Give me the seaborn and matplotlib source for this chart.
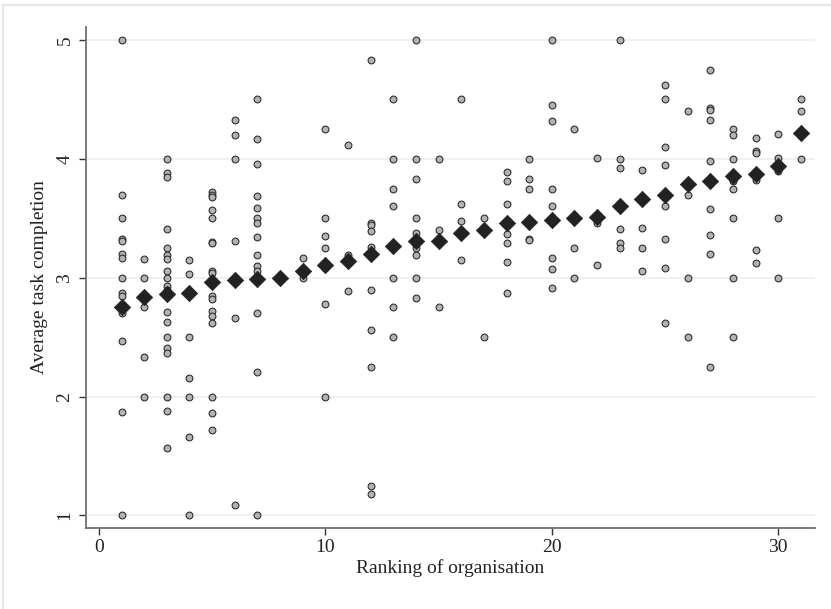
import matplotlib
matplotlib.use("Agg")
import matplotlib.pyplot as plt
import seaborn as sns
import pandas as pd
from matplotlib.lines import Line2D

# ---- data ----
rank_points = {
    1: [5.0, 3.70, 3.50, 3.33, 3.31, 3.20, 3.17, 3.0, 2.87, 2.85, 2.75, 2.70, 2.47, 1.87, 1.0],
    2: [3.16, 3.0, 2.75, 2.33, 2.0],
    3: [4.0, 3.88, 3.85, 3.41, 3.25, 3.19, 3.16, 3.06, 3.0, 2.93, 2.90, 2.71, 2.63, 2.50, 2.41, 2.37, 2.0, 1.88, 1.57],
    4: [3.15, 3.03, 2.5, 2.16, 2.0, 1.66, 1.0],
    5: [3.72, 3.70, 3.68, 3.57, 3.50, 3.30, 3.29, 3.06, 3.04, 2.85, 2.82, 2.72, 2.68, 2.62, 2.0, 1.86, 1.72],
    6: [4.33, 4.20, 4.0, 3.31, 2.66, 1.09],
    7: [4.50, 4.17, 3.96, 3.69, 3.59, 3.50, 3.46, 3.34, 3.19, 3.10, 3.06, 2.70, 2.21, 1.0],
    8: [3.0],
    9: [3.17, 3.0],
    10: [4.25, 3.50, 3.35, 3.25, 3.10, 3.08, 2.78, 2.0],
    11: [4.12, 3.19, 3.17, 3.14, 2.89],
    12: [4.83, 3.46, 3.44, 3.39, 3.26, 2.90, 2.56, 2.25, 1.25, 1.18],
    13: [4.50, 4.0, 3.75, 3.60, 3.0, 2.75, 2.50],
    14: [5.0, 4.0, 3.83, 3.50, 3.38, 3.25, 3.19, 3.0, 2.83],
    15: [4.0, 3.40, 2.75],
    16: [4.50, 3.62, 3.48, 3.15],
    17: [3.50, 2.50],
    18: [3.89, 3.81, 3.62, 3.37, 3.29, 3.13, 2.87],
    19: [4.0, 3.83, 3.75, 3.33, 3.32],
    20: [5.0, 4.45, 4.32, 3.75, 3.60, 3.17, 3.07, 2.91],
    21: [4.25, 3.50, 3.25, 3.0],
    22: [4.01, 3.46, 3.11],
    23: [5.0, 4.0, 3.92, 3.41, 3.29, 3.25],
    24: [3.91, 3.42, 3.25, 3.06],
    25: [4.62, 4.50, 4.10, 3.95, 3.60, 3.33, 3.08, 2.62],
    26: [4.40, 3.70, 3.0, 2.50],
    27: [4.75, 4.43, 4.41, 4.33, 3.98, 3.58, 3.36, 3.20, 2.25],
    28: [4.25, 4.20, 4.0, 3.81, 3.75, 3.50, 3.0, 2.50],
    29: [4.18, 4.07, 4.05, 3.82, 3.23, 3.12],
    30: [4.21, 4.01, 3.90, 3.50, 3.0],
    31: [4.50, 4.40, 4.0],
}
mean_ranks = list(range(1, 32))
mean_values = [2.75, 2.84, 2.86, 2.87, 2.96, 2.98, 2.99, 3.00, 3.06, 3.11,
               3.14, 3.20, 3.27, 3.31, 3.31, 3.38, 3.40, 3.46, 3.47, 3.49,
               3.50, 3.51, 3.60, 3.66, 3.70, 3.79, 3.81, 3.86, 3.87, 3.94, 4.22]
x_ticks = [0, 10, 20, 30]
y_ticks = [1, 2, 3, 4, 5]
x_label = "Ranking of organisation"
y_label = "Average task completion"

pts = pd.DataFrame([(r, v) for r, vals in rank_points.items() for v in vals],
                   columns=["rank", "value"])
means = pd.DataFrame({"rank": mean_ranks, "value": mean_values})

sns.set_theme(style="white")
plt.rcParams["font.family"] = ["Liberation Serif", "DejaVu Serif"]

fig = plt.figure(figsize=(8.31, 6.09), dpi=100)
ax = fig.add_axes([86 / 831, 81 / 609, (815 - 86) / 831, (528 - 27) / 609])

# outer light frame (left and top edges visible)
fig.lines.append(Line2D([3.5 / 831, 3.5 / 831], [0, 1 - 4.5 / 609],
                        transform=fig.transFigure, color="#e6e6e6", linewidth=1.5))
fig.lines.append(Line2D([3.5 / 831, 1], [1 - 4.5 / 609, 1 - 4.5 / 609],
                        transform=fig.transFigure, color="#e6e6e6", linewidth=1.5))

sns.scatterplot(data=pts, x="rank", y="value", ax=ax, marker="o", s=24,
                color="#b3b3b3", edgecolor="#2e2e2e", linewidth=0.8, zorder=3)
sns.scatterplot(data=means, x="rank", y="value", ax=ax, marker="D", s=70,
                color="#222222", edgecolor="#222222", linewidth=0.5, zorder=4)

ax.set_xlim(-0.57, 31.62)
ax.set_ylim(0.894, 5.11)
ax.set_xticks(x_ticks)
ax.set_yticks(y_ticks)
ax.set_xticklabels([str(t) for t in x_ticks])
ax.set_yticklabels([str(t) for t in y_ticks], rotation=90, va="center")

for y in y_ticks:
    ax.axhline(y, color="#eeeeee", linewidth=1.2, zorder=1)

for s in ["top", "right"]:
    ax.spines[s].set_visible(False)
for s in ["left", "bottom"]:
    ax.spines[s].set_color("#6e6e6e")
    ax.spines[s].set_linewidth(1.3)

ax.tick_params(axis="both", direction="out", length=5, width=1, color="#333333",
               labelsize=14, labelcolor="#222222", pad=3,
               bottom=True, left=True, top=False, right=False)
ax.tick_params(axis="y", pad=4)
ax.set_xlabel(x_label, fontsize=14, color="#222222", labelpad=2)
ax.set_ylabel(y_label, fontsize=14, color="#222222", labelpad=6)

fig.savefig("out.png", dpi=100)
